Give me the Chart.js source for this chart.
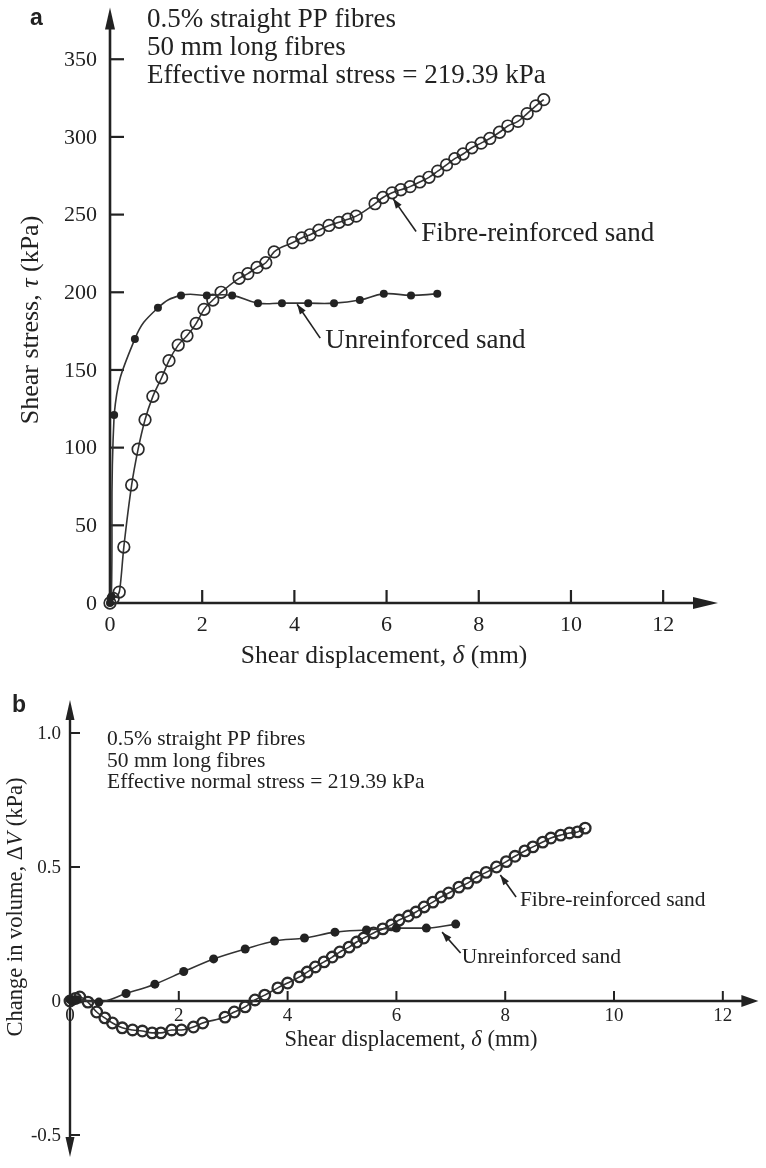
<!DOCTYPE html>
<html>
<head>
<meta charset="utf-8">
<title>Direct shear tests on fibre-reinforced sand</title>
<script src="https://cdn.jsdelivr.net/npm/chart.js@4.4.0/dist/chart.umd.min.js"></script>
<style>
  html, body { margin: 0; padding: 0; background: #fff; }
  #wrap { position: relative; width: 766px; height: 1168px; }
  canvas { position: absolute; left: 0; }
  #stressChart { top: 0; }
  #volumeChart { top: 680px; }
</style>
</head>
<body>
<div id="wrap">
  <canvas id="stressChart" width="766" height="680"></canvas>
  <canvas id="volumeChart" width="766" height="488"></canvas>
</div>
<script>
// (a) shear stress (kPa) against shear displacement (mm)
var stressPlainX = [0, 0.03, 0.09, 0.54, 1.04, 1.54, 2.1, 2.65, 3.21, 3.73, 4.3, 4.86, 5.42, 5.94, 6.53, 7.1];
var stressPlainY = [0, 4, 121, 170, 190, 198, 198, 198, 193, 193, 193, 193, 195, 199, 198, 199];

var stressFibreX = [0, 0.07, 0.2, 0.3, 0.47, 0.61, 0.76, 0.93, 1.12, 1.28, 1.48, 1.67, 1.87, 2.04, 2.23, 2.41,
  2.8, 2.99, 3.19, 3.38, 3.56, 3.97, 4.16, 4.34, 4.53, 4.75, 4.97, 5.16, 5.34, 5.75, 5.92, 6.12, 6.31, 6.51,
  6.72, 6.92, 7.11, 7.3, 7.48, 7.66, 7.85, 8.05, 8.24, 8.45, 8.63, 8.85, 9.05, 9.24, 9.41];
var stressFibreY = [0, 3, 7, 36, 76, 99, 118, 133, 145, 156, 166, 172, 180, 189, 195, 200,
  209, 212, 216, 219, 226, 232, 235, 237, 240, 243, 245, 247, 249, 257, 261, 264, 266, 268,
  271, 274, 278, 282, 286, 289, 293, 296, 299, 303, 307, 310, 315, 320, 324];

var stressTicks = [0, 50, 100, 150, 200, 250, 300, 350];
var stressTickLabels = ['0', '50', '100', '150', '200', '250', '300', '350'];

// (b) change in volume against shear displacement (mm)
var volumePlainX = [0, 0.06, 0.12, 0.53, 1.03, 1.56, 2.09, 2.64, 3.22, 3.76, 4.31, 4.87, 5.45, 6.0, 6.55, 7.09];
var volumePlainY = [0.005, 0, 0.005, -0.004, 0.028, 0.063, 0.11, 0.157, 0.194, 0.224, 0.235, 0.257, 0.265, 0.272, 0.272, 0.287];

var volumeFibreX = [0, 0.1, 0.18, 0.33, 0.49, 0.64, 0.78, 0.96, 1.15, 1.33, 1.51, 1.67, 1.87, 2.05, 2.27, 2.44,
  2.85, 3.02, 3.22, 3.4, 3.58, 3.82, 4.0, 4.22, 4.36, 4.51, 4.67, 4.82, 4.96, 5.13, 5.27, 5.4, 5.58, 5.75,
  5.91, 6.05, 6.22, 6.36, 6.51, 6.67, 6.82, 6.96, 7.15, 7.31, 7.47, 7.65, 7.84, 8.02, 8.18, 8.36, 8.51,
  8.69, 8.84, 9.02, 9.18, 9.33, 9.47];
var volumeFibreY = [0, 0.01, 0.015, -0.004, -0.041, -0.063, -0.082, -0.1, -0.108, -0.112, -0.119, -0.119, -0.108, -0.108, -0.097, -0.082,
  -0.06, -0.041, -0.022, 0.004, 0.022, 0.049, 0.067, 0.09, 0.108, 0.127, 0.146, 0.164, 0.183, 0.201, 0.22, 0.235, 0.254, 0.269,
  0.284, 0.302, 0.317, 0.332, 0.351, 0.369, 0.388, 0.403, 0.425, 0.44, 0.462, 0.48, 0.5, 0.52, 0.54, 0.56, 0.575,
  0.593, 0.608, 0.619, 0.627, 0.631, 0.645];

var volumeTicks = [-0.5, 0, 0.5, 1.0];
var volumeTickLabels = ['-0.5', '0', '0.5', '1.0'];

var dispTicks = [0, 2, 4, 6, 8, 10, 12];
var dispTickLabels = ['0', '2', '4', '6', '8', '10', '12'];

var noteLines = ['0.5% straight PP fibres', '50 mm long fibres', 'Effective normal stress = 219.39 kPa'];

var INK = '#222';
var LINE = '#333';
var SERIF = '"Liberation Serif", "Times New Roman", serif';
var SANS = '"Liberation Sans", Arial, sans-serif';

function points(xs, ys) {
  return xs.map(function (x, i) { return { x: x, y: ys[i] }; });
}

// draw a line of text made of plain / italic pieces
function drawRuns(ctx, runs, x, y, size, align) {
  var widths = runs.map(function (r) {
    ctx.font = (r[1] ? 'italic ' : '') + size + 'px ' + SERIF;
    return ctx.measureText(r[0]).width;
  });
  var total = widths.reduce(function (a, b) { return a + b; }, 0);
  var cx = align === 'center' ? x - total / 2 : x;
  ctx.textAlign = 'left';
  runs.forEach(function (r, i) {
    ctx.font = (r[1] ? 'italic ' : '') + size + 'px ' + SERIF;
    ctx.fillText(r[0], cx, y);
    cx += widths[i];
  });
}

// filled triangle with its tip at (x2, y2), pointing away from (x1, y1)
function arrowHead(ctx, x1, y1, x2, y2, len, half) {
  var a = Math.atan2(y2 - y1, x2 - x1);
  var bx = x2 - len * Math.cos(a), by = y2 - len * Math.sin(a);
  ctx.beginPath();
  ctx.moveTo(x2, y2);
  ctx.lineTo(bx + half * Math.sin(a), by - half * Math.cos(a));
  ctx.lineTo(bx - half * Math.sin(a), by + half * Math.cos(a));
  ctx.closePath();
  ctx.fill();
}

// axes crossing at the origin, inward ticks, arrows, and all the lettering
var axisFrame = {
  id: 'axisFrame',
  beforeDatasetsDraw: function (chart, args, o) {
    var ctx = chart.ctx, sx = chart.scales.x, sy = chart.scales.y, area = chart.chartArea;
    var ox = sx.getPixelForValue(0), oy = sy.getPixelForValue(0);
    ctx.save();
    ctx.strokeStyle = INK;
    ctx.fillStyle = INK;
    ctx.lineWidth = o.lineWidth;

    ctx.beginPath();
    ctx.moveTo(ox, o.arrowDown ? area.bottom - o.yArrow[0] + 2 : oy + o.lineWidth / 2);
    ctx.lineTo(ox, area.top + o.yArrow[0] - 2);
    ctx.stroke();
    arrowHead(ctx, ox, area.bottom, ox, area.top, o.yArrow[0], o.yArrow[1]);
    if (o.arrowDown) arrowHead(ctx, ox, area.top, ox, area.bottom, o.yArrow[0], o.yArrow[1]);

    ctx.beginPath();
    ctx.moveTo(ox - o.lineWidth / 2, oy);
    ctx.lineTo(area.right - o.xArrow[0] + 2, oy);
    ctx.stroke();
    arrowHead(ctx, ox, oy, area.right, oy, o.xArrow[0], o.xArrow[1]);

    ctx.lineWidth = o.tickWidth;
    o.yTicks.forEach(function (v) {
      if (v === 0) return;
      var py = sy.getPixelForValue(v);
      ctx.beginPath(); ctx.moveTo(ox, py); ctx.lineTo(ox + o.yTickLen, py); ctx.stroke();
    });
    o.xTicks.forEach(function (v) {
      if (v === 0) return;
      var px = sx.getPixelForValue(v);
      ctx.beginPath(); ctx.moveTo(px, oy); ctx.lineTo(px, oy - o.xTickLen); ctx.stroke();
    });

    ctx.font = o.tickSize + 'px ' + SERIF;
    ctx.textAlign = 'right';
    ctx.textBaseline = 'middle';
    o.yTicks.forEach(function (v, i) {
      ctx.fillText(o.yTickLabels[i], ox - o.yLabelGap, sy.getPixelForValue(v) + 1);
    });
    ctx.textAlign = 'center';
    ctx.textBaseline = 'alphabetic';
    o.xTicks.forEach(function (v, i) {
      ctx.fillText(o.xTickLabels[i], sx.getPixelForValue(v), oy + o.xLabelDrop);
    });
    ctx.restore();
  },
  afterDraw: function (chart, args, o) {
    var ctx = chart.ctx, sx = chart.scales.x, sy = chart.scales.y;
    ctx.save();
    ctx.fillStyle = INK;
    ctx.strokeStyle = INK;
    ctx.textBaseline = 'alphabetic';

    ctx.font = 'bold ' + o.panel.size + 'px ' + SANS;
    ctx.textAlign = 'left';
    ctx.fillText(o.panel.text, o.panel.x, o.panel.y);

    ctx.font = o.note.size + 'px ' + SERIF;
    noteLines.forEach(function (t, i) {
      ctx.fillText(t, o.note.x, o.note.y + i * o.note.step);
    });

    drawRuns(ctx, o.xTitle.runs, o.xTitle.x, o.xTitle.y, o.xTitle.size, 'center');

    ctx.save();
    ctx.translate(o.yTitle.x, o.yTitle.y);
    ctx.rotate(-Math.PI / 2);
    ctx.textBaseline = 'middle';
    drawRuns(ctx, o.yTitle.runs, 0, 0, o.yTitle.size, 'center');
    ctx.restore();

    // curve call-outs, anchored in data units
    ctx.lineWidth = 1.6;
    o.callouts.forEach(function (c) {
      var hx = sx.getPixelForValue(c.head[0]), hy = sy.getPixelForValue(c.head[1]);
      var tx = sx.getPixelForValue(c.tail[0]), ty = sy.getPixelForValue(c.tail[1]);
      ctx.beginPath(); ctx.moveTo(tx, ty); ctx.lineTo(hx, hy); ctx.stroke();
      arrowHead(ctx, tx, ty, hx, hy, 10, 3.5);
      ctx.font = o.calloutSize + 'px ' + SERIF;
      ctx.textAlign = 'left';
      ctx.fillText(c.text, sx.getPixelForValue(c.at[0]), sy.getPixelForValue(c.at[1]));
    });
    ctx.restore();
  }
};

function curve(data, opts) {
  return Object.assign({
    data: data,
    showLine: true,
    borderColor: LINE,
    borderWidth: 1.6,
    tension: 0.4,
    cubicInterpolationMode: 'monotone',
    pointStyle: 'circle',
    clip: false
  }, opts);
}

function makeChart(id, datasets, scales, padding, frame) {
  return new Chart(document.getElementById(id), {
    type: 'scatter',
    data: { datasets: datasets },
    options: {
      responsive: false,
      animation: false,
      events: [],
      layout: { padding: padding },
      scales: {
        x: { type: 'linear', display: false, min: scales.x[0], max: scales.x[1] },
        y: { type: 'linear', display: false, min: scales.y[0], max: scales.y[1] }
      },
      plugins: {
        legend: { display: false },
        tooltip: { enabled: false },
        axisFrame: frame
      }
    },
    plugins: [axisFrame]
  });
}

// (a) Shear stress
makeChart('stressChart', [
  // the plain sand curve bends sharply near the origin, a plain spline keeps it round
  curve(points(stressPlainX, stressPlainY), {
    pointRadius: 4, pointBorderWidth: 0, pointBackgroundColor: INK,
    cubicInterpolationMode: 'default', tension: 0.45
  }),
  curve(points(stressFibreX, stressFibreY), {
    pointRadius: 5.8, pointBorderWidth: 1.7, pointBorderColor: '#2a2a2a',
    pointBackgroundColor: 'rgba(255,255,255,0)'
  })
], { x: [0, 13.19], y: [0, 383.3] }, { left: 110, right: 48, top: 5, bottom: 77 }, {
  lineWidth: 2.6, tickWidth: 2.2,
  yArrow: [22, 5], xArrow: [25, 6], arrowDown: false,
  yTicks: stressTicks, yTickLabels: stressTickLabels, yTickLen: 14, yLabelGap: 13,
  xTicks: dispTicks, xTickLabels: dispTickLabels, xTickLen: 13, xLabelDrop: 28,
  tickSize: 22,
  panel: { text: 'a', x: 30, y: 25, size: 23 },
  note: { x: 147, y: 27, step: 28, size: 27 },
  xTitle: { runs: [['Shear displacement, '], ['δ', true], [' (mm)']], x: 384, y: 663, size: 25.5 },
  yTitle: { runs: [['Shear stress, '], ['τ', true], [' (kPa)']], x: 31, y: 320, size: 26 },
  calloutSize: 27,
  callouts: [
    { text: 'Fibre-reinforced sand', head: [6.14, 260.3], tail: [6.64, 239.1], at: [6.75, 232.7] },
    { text: 'Unreinforced sand', head: [4.06, 192.3], tail: [4.56, 170.5], at: [4.67, 164.1] }
  ]
});

// (b) Volume change
makeChart('volumeChart', [
  curve(points(volumePlainX, volumePlainY), {
    pointRadius: 4.5, pointBorderWidth: 0, pointBackgroundColor: INK
  }),
  curve(points(volumeFibreX, volumeFibreY), {
    pointRadius: 5.3, pointBorderWidth: 2.3, pointBorderColor: '#2a2a2a',
    pointBackgroundColor: 'rgba(255,255,255,0)'
  })
], { x: [0, 12.654], y: [-0.582, 1.1231] }, { left: 70, right: 0, top: 20, bottom: 11 }, {
  lineWidth: 2.4, tickWidth: 2,
  yArrow: [20, 4.5], xArrow: [17, 6], arrowDown: true,
  yTicks: volumeTicks, yTickLabels: volumeTickLabels, yTickLen: 10, yLabelGap: 9,
  xTicks: dispTicks, xTickLabels: dispTickLabels, xTickLen: 10, xLabelDrop: 20,
  tickSize: 19,
  panel: { text: 'b', x: 12, y: 32, size: 23 },
  note: { x: 107, y: 65, step: 21.5, size: 21.5 },
  xTitle: { runs: [['Shear displacement, '], ['δ', true], [' (mm)']], x: 411, y: 366, size: 22.5 },
  yTitle: { runs: [['Change in volume, Δ'], ['V', true], [' (kPa)']], x: 16, y: 227, size: 22.5 },
  calloutSize: 21.5,
  callouts: [
    { text: 'Fibre-reinforced sand', head: [7.91, 0.47], tail: [8.2, 0.388], at: [8.27, 0.354] },
    { text: 'Unreinforced sand', head: [6.84, 0.257], tail: [7.18, 0.179], at: [7.2, 0.142] }
  ]
});
</script>
</body>
</html>
